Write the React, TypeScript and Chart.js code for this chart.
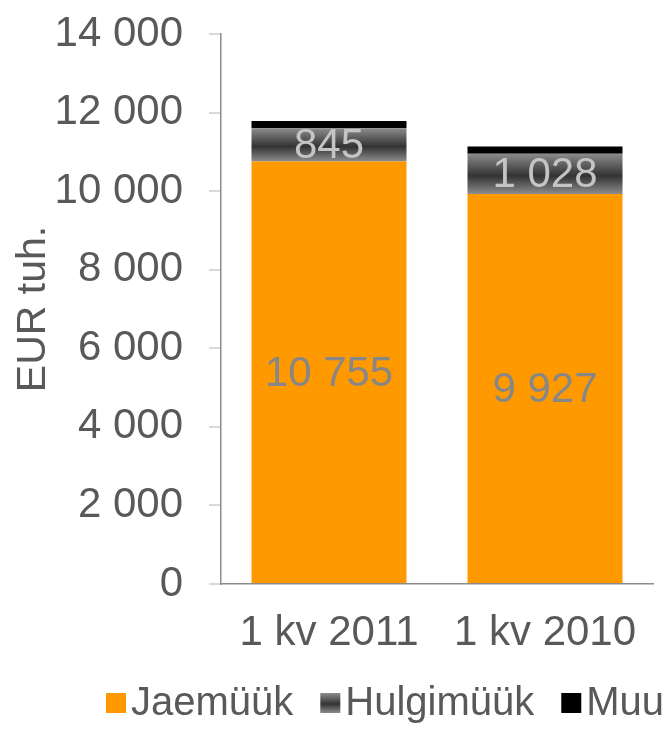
import React, { useEffect, useRef } from "react";
import { Chart, registerables } from "chart.js";

Chart.register(...registerables);

const categories = ["1 kv 2011", "1 kv 2010"];
const jaemuuk = [10755, 9927];
const hulgimuuk = [845, 1028];
const muu = [185, 180];
const seriesNames = ["Jaemüük", "Hulgimüük", "Muu"];

const FONT = "'Liberation Sans', Arial, sans-serif";
const ORANGE = "#FF9900";

const fmt = (v: number) =>
  Math.round(v)
    .toString()
    .replace(/\B(?=(\d{3})+(?!\d))/g, " ");

function greyGradient(ctx: CanvasRenderingContext2D, top: number, bottom: number) {
  const g = ctx.createLinearGradient(0, top, 0, bottom);
  g.addColorStop(0, "#8c8c8c");
  g.addColorStop(0.55, "#333333");
  g.addColorStop(1, "#8c8c8c");
  return g;
}

const labelsPlugin = {
  id: "barLabels",
  afterDatasetsDraw(chart: any) {
    const ctx = chart.ctx;
    ctx.save();
    ctx.font = `42px ${FONT}`;
    ctx.textAlign = "center";
    ctx.textBaseline = "middle";
    [0, 1].forEach((di) => {
      const meta = chart.getDatasetMeta(di);
      const vals = di === 0 ? jaemuuk : hulgimuuk;
      ctx.fillStyle = di === 0 ? "#878787" : "#c4c4c4";
      meta.data.forEach((bar: any, i: number) => {
        const y = (bar.y + bar.base) / 2;
        ctx.fillText(fmt(vals[i]), bar.x, y + 2);
      });
    });
    ctx.restore();
  },
};

const legendPlugin = {
  id: "customLegend",
  afterDraw(chart: any) {
    const ctx = chart.ctx;
    ctx.save();
    ctx.font = `40px ${FONT}`;
    ctx.textBaseline = "middle";
    ctx.textAlign = "left";
    let x = 106;
    const boxTop = 693;
    const box = 20;
    seriesNames.forEach((name, i) => {
      if (i === 0) ctx.fillStyle = ORANGE;
      else if (i === 1) ctx.fillStyle = greyGradient(ctx, boxTop, boxTop + box);
      else ctx.fillStyle = "#000000";
      ctx.fillRect(x, boxTop, box, box);
      x += box + 5;
      ctx.fillStyle = "#595959";
      ctx.fillText(name, x, boxTop + box / 2 + 1);
      x += ctx.measureText(name).width + 27;
    });
    ctx.restore();
  },
};

export default function App() {
  const ref = useRef<HTMLCanvasElement>(null);
  useEffect(() => {
    if (!ref.current) return;
    const chart = new Chart(ref.current, {
      type: "bar",
      data: {
        labels: categories,
        datasets: [
          {
            label: seriesNames[0],
            data: jaemuuk,
            backgroundColor: ORANGE,
          },
          {
            label: seriesNames[1],
            data: hulgimuuk,
            backgroundColor: (c: any) => {
              const y = c.chart.scales?.y;
              if (!y || c.dataIndex === undefined) return "#555555";
              const i = c.dataIndex;
              const top = y.getPixelForValue(jaemuuk[i] + hulgimuuk[i]);
              const bot = y.getPixelForValue(jaemuuk[i]);
              if (!isFinite(top) || !isFinite(bot)) return "#555555";
              return greyGradient(c.chart.ctx, top, bot);
            },
          },
          {
            label: seriesNames[2],
            data: muu,
            backgroundColor: "#000000",
          },
        ],
      },
      options: {
        responsive: false,
        animation: false,
        layout: { padding: { top: 34, right: 15, bottom: 60, left: 0 } },
        datasets: {
          bar: { categoryPercentage: 1, barPercentage: 0.7176, borderWidth: 0 },
        },
        plugins: {
          legend: { display: false },
          tooltip: { enabled: false },
        },
        scales: {
          x: {
            stacked: true,
            grid: { display: false, drawTicks: false },
            border: { display: true, color: "#8c8c8c", width: 1.5 },
            ticks: {
              color: "#595959",
              font: { family: FONT, size: 42 },
              padding: 24,
              maxRotation: 0,
            },
            afterFit: (s: any) => {
              s.height = 89;
              s.paddingLeft = 0;
              s.paddingRight = 0;
            },
          },
          y: {
            stacked: true,
            min: 0,
            max: 14000,
            ticks: {
              stepSize: 2000,
              color: "#595959",
              font: { family: FONT, size: 42 },
              padding: 26,
              callback: (v: any) => fmt(Number(v)),
            },
            grid: {
              drawOnChartArea: false,
              drawTicks: true,
              tickLength: 12,
              color: "#d9d9d9",
              lineWidth: 2,
            },
            border: { display: true, color: "#8c8c8c", width: 1.5 },
            title: {
              display: true,
              text: "EUR tuh.",
              color: "#595959",
              font: { family: FONT, size: 41 },
              padding: { top: 9, bottom: 0 },
            },
            afterFit: (s: any) => {
              s.width = 221;
              s.paddingTop = 0;
              s.paddingBottom = 0;
            },
          },
        },
      },
      plugins: [labelsPlugin, legendPlugin],
    });
    return () => chart.destroy();
  }, []);
  return (
    <div style={{ position: "fixed", left: 0, top: 0, width: 668, height: 733, background: "#fff" }}>
      <canvas ref={ref} width={668} height={733} style={{ display: "block" }} />
    </div>
  );
}
